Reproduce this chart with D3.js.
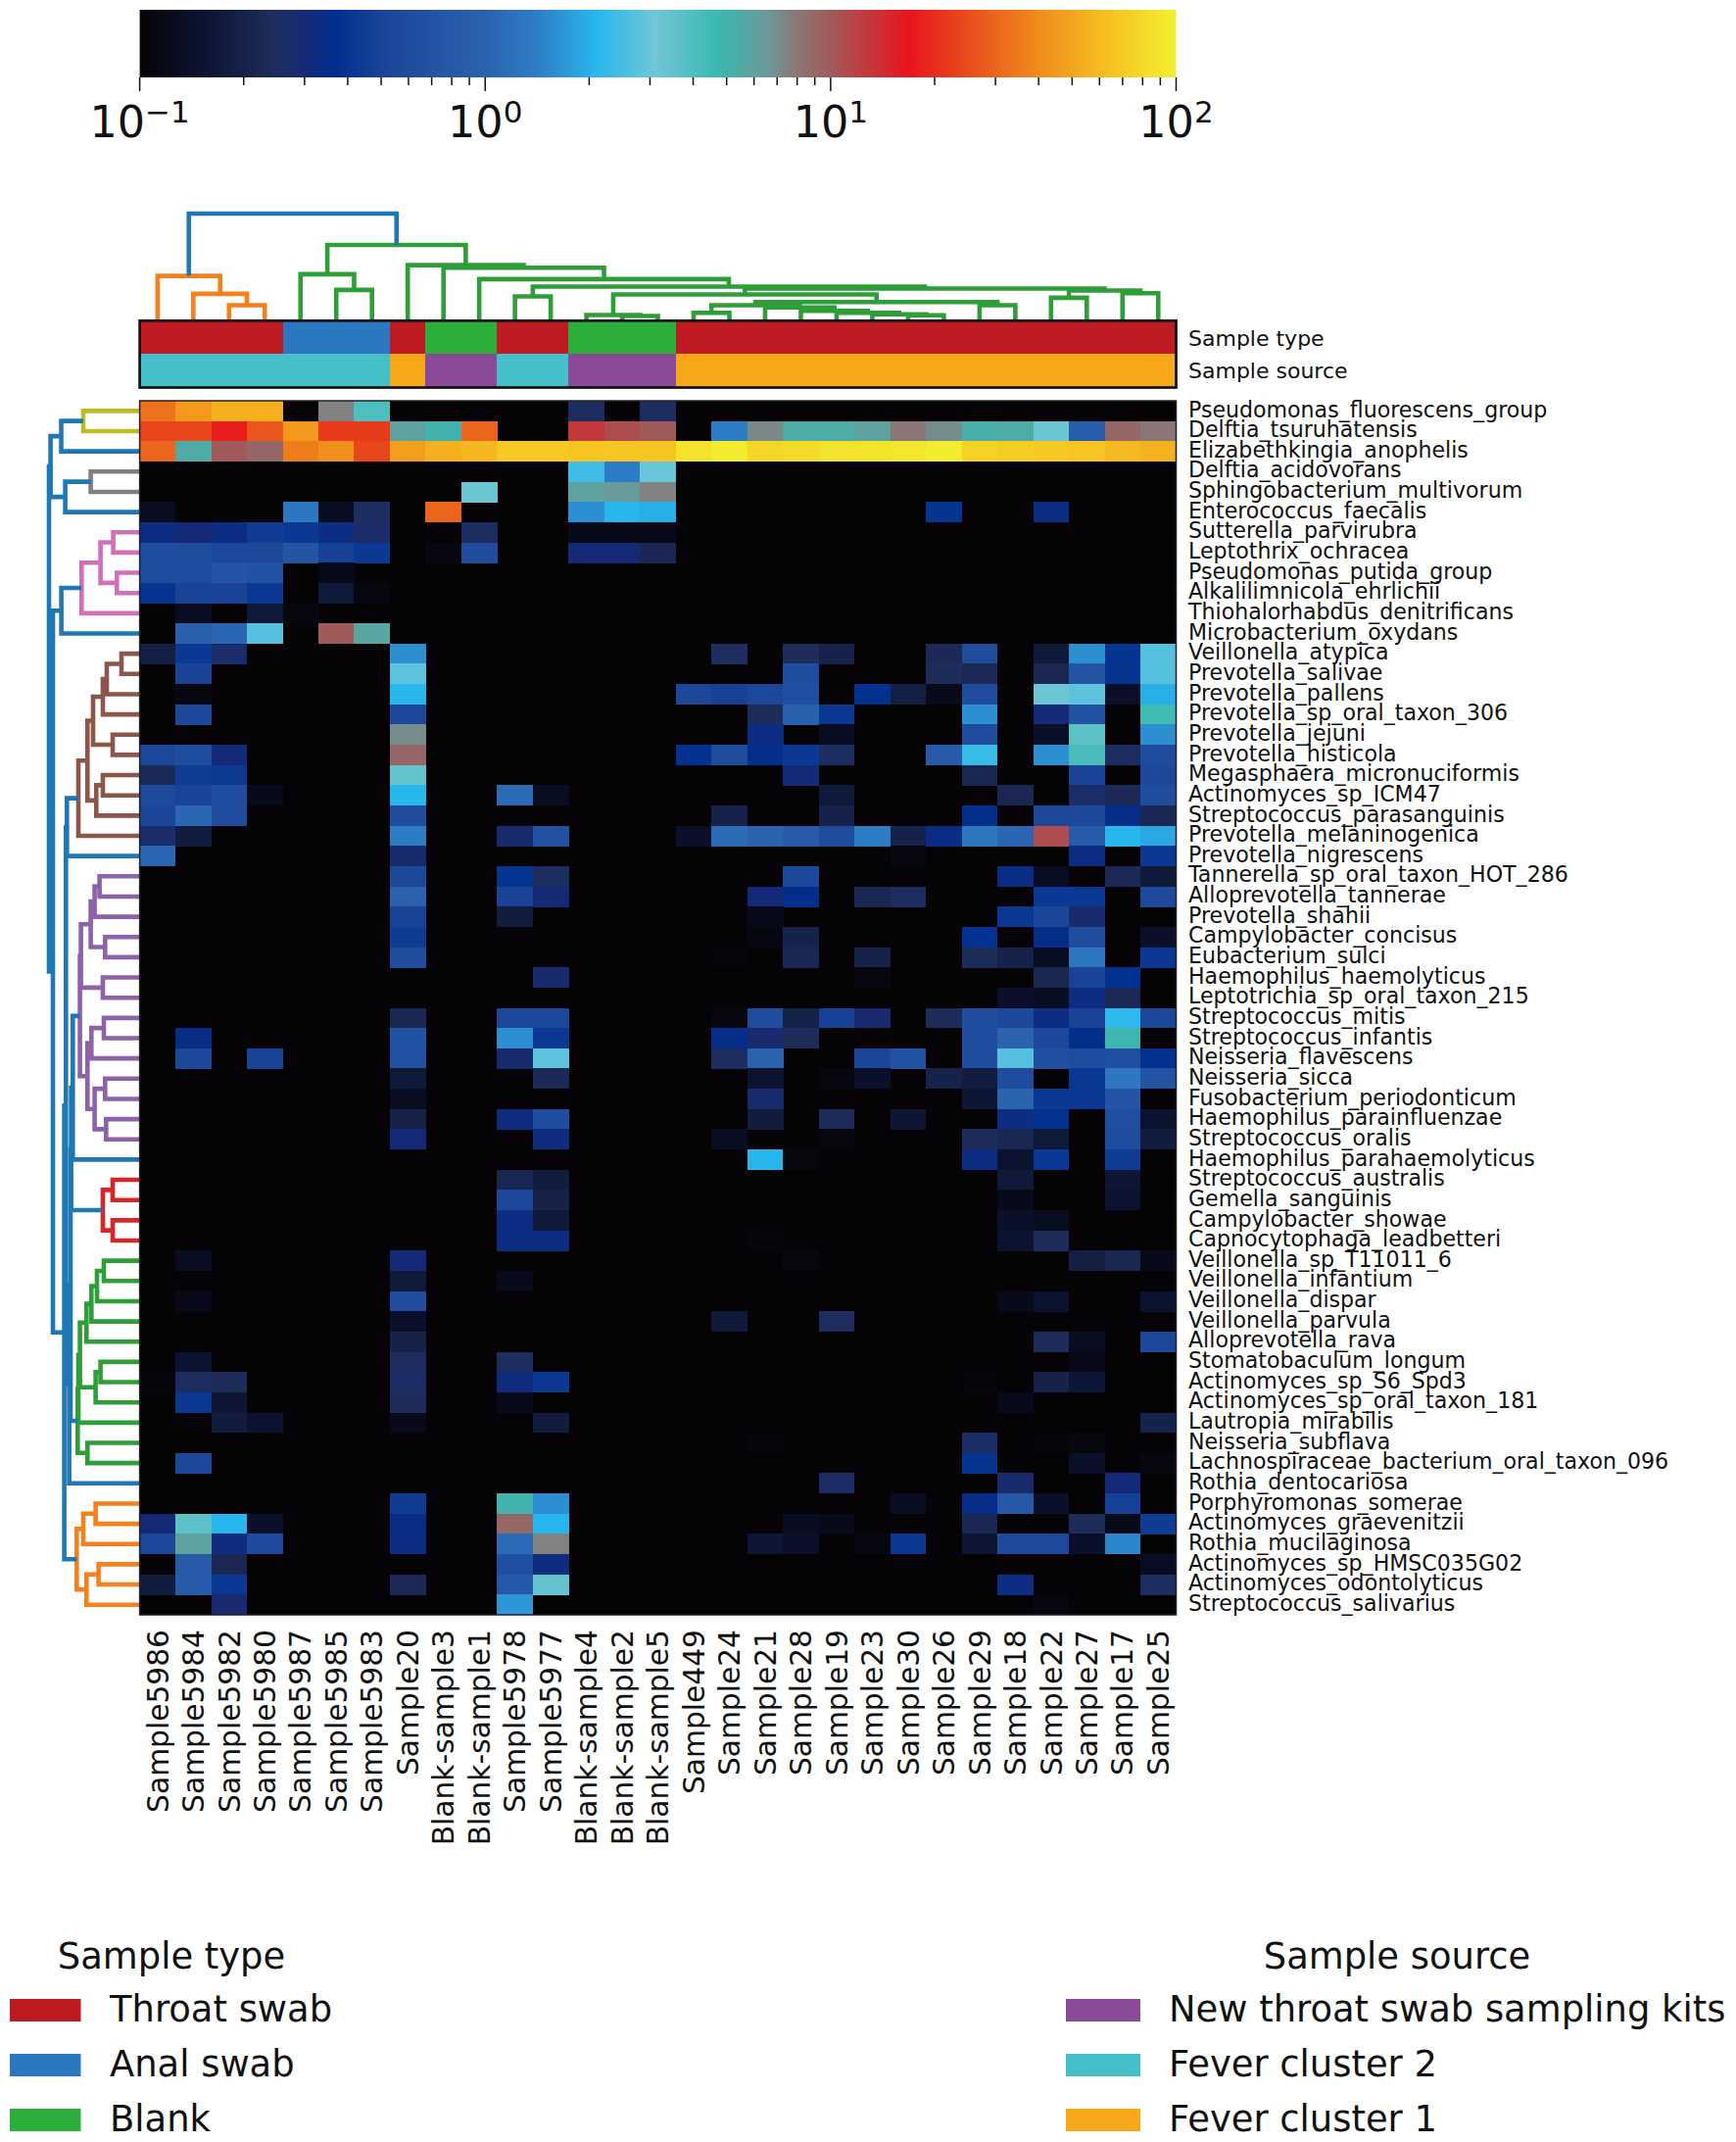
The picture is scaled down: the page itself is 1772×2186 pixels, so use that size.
<!DOCTYPE html>
<html><head><meta charset="utf-8">
<script src="https://cdn.jsdelivr.net/npm/d3@7"></script>
<style>html,body{margin:0;padding:0;background:#fff}svg{display:block}text{font-family:"DejaVu Sans",sans-serif;fill:#111}</style>
</head><body><div id="chart"></div>
<script>
const samples = ["Sample5986","Sample5984","Sample5982","Sample5980","Sample5987","Sample5985","Sample5983","Sample20","Blank-sample3","Blank-sample1","Sample5978","Sample5977","Blank-sample4","Blank-sample2","Blank-sample5","Sample449","Sample24","Sample21","Sample28","Sample19","Sample23","Sample30","Sample26","Sample29","Sample18","Sample22","Sample27","Sample17","Sample25"];
const species = ["Pseudomonas_fluorescens_group","Delftia_tsuruhatensis","Elizabethkingia_anophelis","Delftia_acidovorans","Sphingobacterium_multivorum","Enterococcus_faecalis","Sutterella_parvirubra","Leptothrix_ochracea","Pseudomonas_putida_group","Alkalilimnicola_ehrlichii","Thiohalorhabdus_denitrificans","Microbacterium_oxydans","Veillonella_atypica","Prevotella_salivae","Prevotella_pallens","Prevotella_sp_oral_taxon_306","Prevotella_jejuni","Prevotella_histicola","Megasphaera_micronuciformis","Actinomyces_sp_ICM47","Streptococcus_parasanguinis","Prevotella_melaninogenica","Prevotella_nigrescens","Tannerella_sp_oral_taxon_HOT_286","Alloprevotella_tannerae","Prevotella_shahii","Campylobacter_concisus","Eubacterium_sulci","Haemophilus_haemolyticus","Leptotrichia_sp_oral_taxon_215","Streptococcus_mitis","Streptococcus_infantis","Neisseria_flavescens","Neisseria_sicca","Fusobacterium_periodonticum","Haemophilus_parainfluenzae","Streptococcus_oralis","Haemophilus_parahaemolyticus","Streptococcus_australis","Gemella_sanguinis","Campylobacter_showae","Capnocytophaga_leadbetteri","Veillonella_sp_T11011_6","Veillonella_infantium","Veillonella_dispar","Veillonella_parvula","Alloprevotella_rava","Stomatobaculum_longum","Actinomyces_sp_S6_Spd3","Actinomyces_sp_oral_taxon_181","Lautropia_mirabilis","Neisseria_subflava","Lachnospiraceae_bacterium_oral_taxon_096","Rothia_dentocariosa","Porphyromonas_somerae","Actinomyces_graevenitzii","Rothia_mucilaginosa","Actinomyces_sp_HMSC035G02","Actinomyces_odontolyticus","Streptococcus_salivarius"];

// abundance: one entry per species, {sample column index: percent}; missing = below scale
const abundance = [
{0:33,1:45,2:55,3:55,5:7.5,6:4,12:.25,14:.25},
{0:24,1:24,2:18,3:27,4:45,5:22,6:22,7:6,8:5,9:30,12:13,13:11,14:10,16:1.4,17:7.2,18:5.4,19:5.4,20:6,21:8,22:7,23:5.2,24:5.4,25:3.2,26:.9,27:9,28:8},
{0:30,1:5.5,2:10,3:9,4:36,5:42,6:24,7:47,8:55,9:58,10:68,11:68,12:66,13:66,14:66,15:88,16:95,17:78,18:82,19:88,20:90,21:92,22:95,23:75,24:72,25:68,26:66,27:60,28:56},
{12:2.4,13:1.4,14:3},
{9:3.2,12:6,13:6.5,14:7.5},
{0:.13,4:1.3,5:.13,6:.25,8:30,12:1.6,13:2.1,14:2,22:.4,25:.33},
{0:.33,1:.3,2:.33,3:.45,4:.42,5:.33,6:.27,9:.25,12:.12,13:.12,14:.12},
{0:.6,1:.6,2:.55,3:.55,4:.75,5:.48,6:.42,8:.11,9:.6,12:.3,13:.3,14:.22},
{0:.6,1:.6,2:.75,3:.7,5:.12},
{0:.4,1:.5,2:.5,3:.42,5:.17,6:.11},
{1:.13,3:.17,4:.11},
{1:.95,2:1.05,3:2.7,5:10,6:5.8},
{0:.19,1:.42,2:.27,7:1.6,16:.25,18:.24,19:.2,22:.23,23:.6,25:.17,26:1.6,27:.4,28:2.7},
{1:.5,7:2.8,18:.6,22:.24,23:.23,25:.22,26:.75,27:.4,28:2.7},
{1:.11,7:2.1,15:.55,16:.48,17:.55,18:.65,20:.38,21:.19,22:.12,23:.6,25:3.2,26:2.8,27:.14,28:2},
{1:.55,7:.55,17:.24,18:.95,19:.42,23:1.6,25:.3,26:.7,28:4.5},
{7:7,17:.33,19:.13,23:.6,25:.14,26:3.6,28:1.6},
{0:.55,1:.6,2:.3,7:9,15:.38,16:.6,17:.36,18:.42,19:.25,22:.85,23:2.3,25:1.6,26:4.2,27:.25,28:.6},
{0:.23,1:.45,2:.43,7:3.4,18:.3,23:.22,26:.5,28:.55},
{0:.58,1:.5,2:.6,3:.12,7:2.1,10:1.1,11:.13,19:.17,24:.22,26:.27,27:.23,28:.62},
{0:.52,1:1.05,2:.6,7:.62,16:.2,19:.2,23:.36,25:.55,26:.55,27:.35,28:.22},
{0:.27,1:.18,7:1.4,10:.28,11:.68,15:.14,16:1.1,17:1,18:.85,19:.6,20:1.4,21:.2,22:.34,23:1.3,24:1.05,25:11,26:.85,27:2.1,28:1.9},
{0:1.05,7:.28,21:.11,26:.33,28:.42},
{7:.55,10:.4,11:.25,18:.55,24:.34,25:.13,27:.23,28:.17},
{7:1,10:.5,11:.3,17:.3,18:.36,20:.22,21:.25,25:.42,26:.42,28:.58},
{7:.5,10:.18,17:.12,24:.42,25:.52,26:.28},
{7:.45,17:.11,18:.2,23:.38,25:.35,26:.6,28:.14},
{7:.6,16:.105,18:.22,20:.2,23:.24,24:.2,25:.13,26:1.3,28:.42},
{11:.28,20:.11,25:.22,26:.5,27:.38},
{24:.14,25:.13,26:.33,27:.23},
{7:.22,10:.55,11:.55,16:.11,17:.6,18:.2,19:.48,20:.28,22:.24,23:.62,24:.55,25:.33,26:.5,27:2.2,28:.55},
{1:.34,7:.7,10:1.6,11:.42,16:.35,17:.28,18:.24,23:.6,24:1,25:.55,26:.36,27:4.8},
{1:.55,3:.5,7:.68,10:.28,11:2.8,16:.25,17:1,20:.52,21:.7,23:.62,24:2.7,25:.65,26:.6,27:.65,28:.38},
{7:.17,11:.23,17:.15,19:.11,20:.14,22:.2,23:.18,24:.6,26:.42,27:1.3,28:.72},
{7:.13,17:.28,23:.16,24:1,25:.42,26:.42,27:.75},
{7:.2,10:.32,11:.62,17:.18,19:.24,21:.16,24:.33,25:.38,27:.65,28:.15},
{7:.3,11:.32,16:.13,19:.11,23:.24,24:.22,25:.17,27:.6,28:.18},
{17:2.1,18:.11,23:.33,24:.15,25:.42,27:.45},
{10:.22,11:.18,24:.17,27:.16},
{10:.55,11:.2,24:.12,27:.15},
{10:.33,11:.17,24:.14,25:.13},
{10:.33,11:.33,17:.105,24:.15,25:.24},
{1:.13,7:.3,18:.11,26:.19,27:.22,28:.12},
{7:.17,10:.12},
{1:.12,7:.6,24:.12,25:.15,28:.15},
{7:.14,16:.17,19:.25},
{7:.2,25:.24,26:.13,28:.55},
{1:.15,7:.25,10:.25,26:.12},
{0:.105,1:.25,2:.24,7:.26,10:.32,11:.42,23:.105,25:.2,26:.16},
{1:.42,2:.16,7:.24,10:.12,24:.12},
{2:.18,3:.15,7:.12,11:.18,28:.2},
{17:.105,23:.26,25:.105,26:.11},
{1:.55,23:.4,26:.14,28:.11},
{19:.26,24:.28,27:.3},
{7:.45,10:5,11:1.6,21:.13,23:.35,24:.8,25:.14,27:.48},
{0:.3,1:3.6,2:2.1,3:.14,7:.34,10:9,11:2.1,18:.13,19:.12,23:.22,26:.24,27:.12,28:.45},
{0:.55,1:6,2:.32,3:.58,7:.33,10:1.1,11:7.5,17:.16,18:.14,20:.11,21:.42,23:.16,24:.58,25:.58,26:.14,27:1.5},
{1:.85,2:.22,10:.65,11:.32,28:.13},
{0:.18,1:.85,2:.42,7:.23,10:.8,11:3.4,24:.33,28:.25},
{2:.28,10:1.7,25:.11}
];

const sampleType = ["Throat swab","Throat swab","Throat swab","Throat swab","Anal swab","Anal swab","Anal swab","Throat swab","Blank","Blank","Throat swab","Throat swab","Blank","Blank","Blank","Throat swab","Throat swab","Throat swab","Throat swab","Throat swab","Throat swab","Throat swab","Throat swab","Throat swab","Throat swab","Throat swab","Throat swab","Throat swab","Throat swab"];
const sampleSource = ["Fever cluster 2","Fever cluster 2","Fever cluster 2","Fever cluster 2","Fever cluster 2","Fever cluster 2","Fever cluster 2","Fever cluster 1","New throat swab sampling kits","New throat swab sampling kits","Fever cluster 2","Fever cluster 2","New throat swab sampling kits","New throat swab sampling kits","New throat swab sampling kits","Fever cluster 1","Fever cluster 1","Fever cluster 1","Fever cluster 1","Fever cluster 1","Fever cluster 1","Fever cluster 1","Fever cluster 1","Fever cluster 1","Fever cluster 1","Fever cluster 1","Fever cluster 1","Fever cluster 1","Fever cluster 1"];
const typeNames = ["Throat swab","Anal swab","Blank"];
const typeColors = ["#bd1a22","#2b78c0","#2cae3a"];
const sourceNames = ["New throat swab sampling kits","Fever cluster 2","Fever cluster 1"];
const sourceColors = ["#8a4a98","#45bfc8","#f6a81a"];

const colorValues = [.1,.137,.174,.245,.302,.372,.514,1,1.45,2.12,3.1,4.72,6.58,7.9,10,16.8,24.6,39.4,63,100];
const colorRange = ["#050305","#0a0f28","#101a3c","#1f2d5c","#152a78","#00308f","#1c4598","#2a62ae","#2d80c8","#28b8ee","#70c6d6","#3ab8b0","#6a9a98","#8a7878","#a05a5a","#e8141c","#e84a1c","#f08a1c","#f6c020","#f2f030"];
const majorTicks = [.1,1,10,100];
const minorTicks = [.2,.3,.4,.5,.6,.7,.8,.9,2,3,4,5,6,7,8,9,20,30,40,50,60,70,80,90];
const tickExponents = ["\u22121","0","1","2"];

// linkage trees: [height, childA, childB, optional colour]; numbers are leaf indices
const ORANGE="#f5801e",GREEN="#2f9e38",BLUE="#1f77b4",OLIVE="#bcbd22",GRAY="#7f7f7f",PINK="#d070b8",BROWN="#8c564b",PURPLE="#8c62aa",RED="#d62728";
const columnTree = [108.7,
  [45,0,[26.7,1,[15,2,3]],ORANGE],
  [76.7,
    [46.7,4,[30.7,5,6]],
    [56,7,[53.3,8,[41.7,9,[34,[24,10,11],
      [32,
        [26,[5,12,[4,13,14]],
          [18.3,
            [15,[7.3,15,16],[12.7,17,[9.3,18,[7.3,19,[5.7,20,[4.7,21,22]]]]]],
            [15,23,24]]],
        [30,[22.7,25,26],[27.3,27,28]]]]]]],
    GREEN],
  BLUE];
const brownTree = [62.3,[53,[47.3,[37.3,[33.3,[18.3,12,13],14],15],[27.3,16,17]],[44,[37.3,18,19],20]],21,BROWN];
const purpleTree = [60.7,
  [59.7,[49.7,[45.7,[40.7,23,24],25],[35,26,27]],[37.3,28,29]],
  [53,[49,[36.3,30,31],32],[45.7,[35,33,34],[34,35,36]]],PURPLE];
const redTree = [37.3,[27.3,38,39],[27.3,40,41],RED];
const greenTree = [63,[62.3,[60.7,[54,[49,[43.3,[36.3,42,43],44],45],46],[44.7,[39.7,47,48],49]],50],[53,51,52],GREEN];
const orangeTree = [64,[57.3,[44.7,54,55],56],[54,[41.7,57,58],59],ORANGE];
const rowTree = [92.3,
  [90.7,
    [79.8,[57.3,0,1,OLIVE],2],
    [75.7,[49.7,3,4,GRAY],5]],
  [88.3,
    [79.7,[59,[39.7,[26.7,6,7],[23,8,9]],10,PINK],11],
    [76.7,
      [75,
        [74,brownTree,22],
        [71.7,[70.3,[69.7,[68,purpleTree,37],redTree],greenTree],53]],
      orangeTree]],
  BLUE];

const W=1772,H=2186;
const svg=d3.select("#chart").append("svg").attr("width",W).attr("height",H).attr("viewBox",[0,0,W,H]);

const plotL=142.6,plotR=1200.5,heatT=409,heatB=1648;
const x=d3.scaleBand().domain(d3.range(samples.length)).range([plotL,plotR]);
const y=d3.scaleBand().domain(d3.range(species.length)).range([heatT,heatB]);
const color=d3.scaleLog().domain(colorValues).range(colorRange).interpolate(d3.interpolateRgb).clamp(true);

// colourbar
const barT=10,barB=79;
const cbx=d3.scaleLog().domain([.1,100]).range([plotL,plotR]);
const grad=svg.append("defs").append("linearGradient").attr("id","cb").attr("gradientUnits","userSpaceOnUse").attr("x1",plotL).attr("x2",plotR).attr("y1",0).attr("y2",0);
grad.selectAll("stop").data(colorValues).join("stop").attr("offset",d=>(cbx(d)-plotL)/(plotR-plotL)).attr("stop-color",d=>color(d));
svg.append("rect").attr("x",plotL).attr("y",barT).attr("width",plotR-plotL).attr("height",barB-barT).attr("fill","url(#cb)");
svg.append("g").selectAll("line").data(minorTicks).join("line").attr("x1",d=>cbx(d)).attr("x2",d=>cbx(d)).attr("y1",barB).attr("y2",barB+8).attr("stroke","#111").attr("stroke-width",1.5);
svg.append("g").selectAll("line").data(majorTicks).join("line").attr("x1",d=>cbx(d)).attr("x2",d=>cbx(d)).attr("y1",barB).attr("y2",barB+14).attr("stroke","#111").attr("stroke-width",1.5);
const tl=svg.append("g").selectAll("text").data(majorTicks).join("text").attr("x",d=>cbx(d)).attr("y",140).attr("text-anchor","middle").style("font-size","44.5px");
tl.append("tspan").text("10");
tl.append("tspan").attr("dy",-15).style("font-size","31px").text((d,i)=>tickExponents[i]);

// dendrograms
function drawTree(g,tree,leafPos,hPos,orient,inherited){
  function walk(n,col){
    if(typeof n==="number") return {p:leafPos(n),h:0};
    const c=n[3]||col;
    const a=walk(n[1],c),b=walk(n[2],c);
    const pts=[[a.p,a.h],[a.p,n[0]],[b.p,n[0]],[b.p,b.h]].map(([p,h])=>orient==="top"?[p,hPos(h)]:[hPos(h),p]);
    g.append("path").attr("d",d3.line()(pts)).attr("fill","none").attr("stroke",c).attr("stroke-width",4.6).attr("stroke-linejoin","miter");
    return {p:(a.p+b.p)/2,h:n[0]};
  }
  walk(tree,inherited);
}
drawTree(svg.append("g"),columnTree,i=>x(i)+x.bandwidth()/2,d3.scaleLinear().domain([0,108.7]).range([326.5,218]),"top",BLUE);
drawTree(svg.append("g"),rowTree,i=>y(i)+y.bandwidth()/2,d3.scaleLinear().domain([0,92.3]).range([142.3,50]),"left",BLUE);

// annotation strips
const stripT=327.3,stripM=361,stripB=395.5;
const typeScale=d3.scaleOrdinal().domain(typeNames).range(typeColors);
const sourceScale=d3.scaleOrdinal().domain(sourceNames).range(sourceColors);
svg.append("g").attr("shape-rendering","crispEdges").selectAll("rect").data(sampleType).join("rect").attr("x",(d,i)=>x(i)).attr("y",stripT).attr("width",x.bandwidth()+.5).attr("height",stripM-stripT).attr("fill",d=>typeScale(d));
svg.append("g").attr("shape-rendering","crispEdges").selectAll("rect").data(sampleSource).join("rect").attr("x",(d,i)=>x(i)).attr("y",stripM).attr("width",x.bandwidth()+.5).attr("height",stripB-stripM).attr("fill",d=>sourceScale(d));
svg.append("rect").attr("x",plotL).attr("y",stripT).attr("width",plotR-plotL).attr("height",stripB-stripT).attr("fill","none").attr("stroke","#111").attr("stroke-width",2.7);
svg.append("text").attr("x",1213).attr("y",(stripT+stripM)/2).attr("dy",".42em").style("font-size","22px").text("Sample type");
svg.append("text").attr("x",1213).attr("y",(stripM+stripB)/2).attr("dy",".36em").style("font-size","22px").text("Sample source");

// heatmap
svg.append("rect").attr("x",plotL).attr("y",heatT).attr("width",plotR-plotL).attr("height",heatB-heatT).attr("fill",colorRange[0]);
const cells=abundance.flatMap((row,r)=>samples.map((s,c)=>({r,c,v:row[c]||0}))).filter(d=>d.v>0);
svg.append("g").attr("shape-rendering","crispEdges").selectAll("rect").data(cells).join("rect")
  .attr("x",d=>x(d.c)).attr("y",d=>y(d.r)).attr("width",x.bandwidth()+.3).attr("height",y.bandwidth()+.3)
  .attr("fill",d=>color(d.v));
svg.append("rect").attr("x",plotL).attr("y",heatT).attr("width",plotR-plotL).attr("height",heatB-heatT).attr("fill","none").attr("stroke","#222").attr("stroke-width",1.5);

// labels
svg.append("g").selectAll("text").data(species).join("text").attr("x",1213).attr("y",(d,i)=>y(i)+y.bandwidth()/2).attr("dy",".28em").style("font-size","22.1px").text(d=>d);
svg.append("g").selectAll("text").data(samples).join("text")
  .attr("transform",(d,i)=>`translate(${x(i)+x.bandwidth()/2},1663) rotate(-90)`).attr("dy",".36em").attr("text-anchor","end").style("font-size","29.7px").text(d=>d);

// legends
function legend(title,names,colors,titleX,boxX,boxW,textX){
  const g=svg.append("g");
  g.append("text").attr("x",titleX).attr("y",2009).attr("text-anchor","middle").style("font-size","36.9px").text(title);
  const ly=d3.scalePoint().domain(names).range([2040,2152]);
  g.selectAll("rect").data(names).join("rect").attr("x",boxX).attr("y",d=>ly(d)).attr("width",boxW).attr("height",23).attr("fill",(d,i)=>colors[i]);
  g.selectAll("text.item").data(names).join("text").attr("class","item").attr("x",textX).attr("y",d=>ly(d)+23).style("font-size","36.9px").text(d=>d);
}
legend("Sample type",typeNames,typeColors,175,10,72.5,112);
legend("Sample source",sourceNames,sourceColors,1426,1088,76,1193);
</script></body></html>
